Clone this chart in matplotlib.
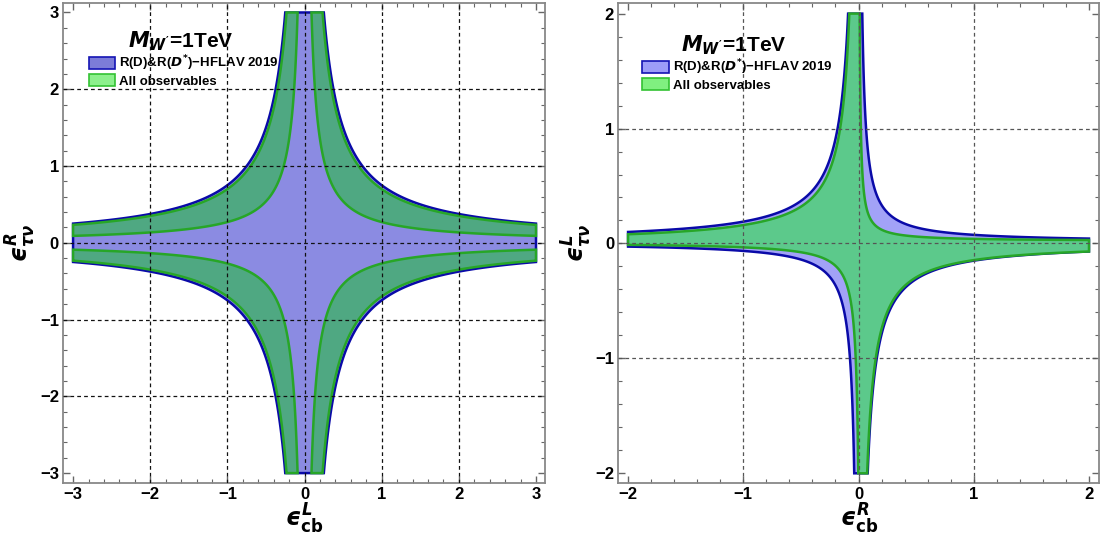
import numpy as np
import matplotlib
matplotlib.use("Agg")
import matplotlib.pyplot as plt
from matplotlib.patches import Polygon, Patch

plt.rcParams['font.family'] = ['Liberation Sans', 'DejaVu Sans']
plt.rcParams['mathtext.fontset'] = 'custom'
plt.rcParams['mathtext.rm'] = 'DejaVu Sans:bold'
plt.rcParams['mathtext.bf'] = 'DejaVu Sans:bold'
plt.rcParams['mathtext.it'] = 'DejaVu Sans:italic:bold'
plt.rcParams['mathtext.sf'] = 'DejaVu Sans:bold'

# ---------------- data (constraint constants) -------------
# Left panel: box limit, R(D)&R(D*) allowed |eL*eR| < c_out, all observables c_in < |eL*eR| < c_green_out
left_box = 3.0
left_blue_c = 0.75
left_green_c_out = 0.70
left_green_c_in = 0.27
left_ticks = [-3, -2, -1, 0, 1, 2, 3]
left_grid = [-2, -1, 0, 1, 2]

# Right panel: each boundary branch (x - a)(y - b) = c, order UR, LR, LL, UL
right_box = 2.0
right_blue_a = [0.0, 0.0, 0.0, 0.0]
right_blue_b = [0.01, 0.01, 0.01, 0.01]
right_blue_c = [0.065, -0.16, 0.075, -0.18]
right_green_a = [0.0, 0.0, 0.02, 0.0]
right_green_b = [0.02, 0.005, 0.01, 0.0]
right_green_c = [0.02, -0.15, 0.045, -0.16]
right_ticks = [-2, -1, 0, 1, 2]
right_grid = [-1, 0, 1]

title_text = r"$M_{W'}$=1TeV"
legend_labels = [r"R(D)&R($D^{*}$)−HFLAV 2019", "All observables"]
left_xlabel = r"$ϵ^{L}_{\mathrm{cb}}$"
left_ylabel = r"$ϵ^{R}_{τν}$"
right_xlabel = r"$ϵ^{R}_{\mathrm{cb}}$"
right_ylabel = r"$ϵ^{L}_{τν}$"

# ---------------- helpers -------------
N = 400

def branch(a, b, c, x0, x1):
    u0, u1 = x0 - a, x1 - a
    s = np.sign(u0 if u0 != 0 else u1)
    us = s * np.geomspace(abs(u0), abs(u1), N)
    return np.column_stack([a + us, b + c / us])

def cross_poly(A, B, C, L):
    ur = branch(A[0], B[0], C[0], A[0] + C[0] / (L - B[0]), L)
    lr = branch(A[1], B[1], C[1], L, A[1] + C[1] / (-L - B[1]))
    ll = branch(A[2], B[2], C[2], A[2] + C[2] / (-L - B[2]), -L)
    ul = branch(A[3], B[3], C[3], -L, A[3] + C[3] / (L - B[3]))
    return np.vstack([ur, lr, ll, ul])

def band_polys(c_in, c_out, L):
    polys = []
    for sx in (1, -1):
        for sy in (1, -1):
            xo = np.geomspace(c_out / L, L, N)
            xi = np.geomspace(L, c_in / L, N)
            pts = np.vstack([np.column_stack([xo, c_out / xo]),
                             np.column_stack([xi, c_in / xi])])
            pts[:, 0] *= sx
            pts[:, 1] *= sy
            polys.append(pts)
    return polys

blue_edge = "#0a0aa8"
green_edge = "#27a627"

def style_axes(ax, lim, ticks, grid, gridcolor):
    ax.set_xlim(lim[0], lim[1])
    ax.set_ylim(lim[0], lim[1])
    ax.set_xticks(ticks)
    ax.set_yticks(ticks)
    ax.set_xticklabels([f"{t}".replace("-", "\u2212") for t in ticks])
    ax.set_yticklabels([f"{t}".replace("-", "\u2212") for t in ticks])
    ax.set_xticks(np.arange(ticks[0], ticks[-1] + 1e-9, 0.2), minor=True)
    ax.set_yticks(np.arange(ticks[0], ticks[-1] + 1e-9, 0.2), minor=True)
    ax.tick_params(which='both', direction='in', top=True, right=True, color='#666666')
    ax.tick_params(which='major', length=5, width=1, labelsize=12, pad=3)
    ax.tick_params(which='minor', length=3, width=0.8)
    for lab in ax.get_xticklabels() + ax.get_yticklabels():
        lab.set_fontweight('bold')
    for s in ax.spines.values():
        s.set_color('#888888')
        s.set_linewidth(1.3)
    for g in grid:
        ax.axvline(g, color=gridcolor, lw=0.9, ls=(0, (3, 2.5)), zorder=5)
        ax.axhline(g, color=gridcolor, lw=0.9, ls=(0, (3, 2.5)), zorder=5)

fig = plt.figure(figsize=(11.06, 5.44), dpi=100)
axL = fig.add_axes([0.057, 0.112, 0.436, 0.882])
axR = fig.add_axes([0.559, 0.112, 0.435, 0.882])

# ---- left panel ----
L = left_box
blue_poly = cross_poly([0, 0, 0, 0], [0, 0, 0, 0],
                       [left_blue_c, -left_blue_c, left_blue_c, -left_blue_c], L)
axL.add_patch(Polygon(blue_poly, closed=True, facecolor="#8b8be2", edgecolor=blue_edge, lw=1.8, zorder=2))
for p in band_polys(left_green_c_in, left_green_c_out, L):
    axL.add_patch(Polygon(p, closed=True, facecolor="#4fa882", edgecolor=green_edge, lw=1.8, zorder=3))
style_axes(axL, (-3.13, 3.12), left_ticks, left_grid, '#111111')
axL.set_xlabel(left_xlabel, fontsize=17, labelpad=0)
axL.set_ylabel(left_ylabel, fontsize=17, labelpad=1)

# ---- right panel ----
L = right_box
bp = cross_poly(right_blue_a, right_blue_b, right_blue_c, L)
axR.add_patch(Polygon(bp, closed=True, facecolor="#a2a2f7", edgecolor=blue_edge, lw=1.8, zorder=2))
gp = cross_poly(right_green_a, right_green_b, right_green_c, L)
axR.add_patch(Polygon(gp, closed=True, facecolor="#5cc98b", edgecolor=green_edge, lw=1.8, zorder=3))
style_axes(axR, (-2.085, 2.09), right_ticks, right_grid, '#555555')
axR.set_xlabel(right_xlabel, fontsize=17, labelpad=0)
axR.set_ylabel(right_ylabel, fontsize=17, labelpad=1)

# ---- legends ----
def add_legend(ax, tx, ty, px, py, blue_fc, green_fc):
    ax.text(tx, ty, title_text, transform=ax.transAxes, fontsize=15, fontweight='bold',
            ha='center', va='center', zorder=10)
    handles = [Patch(facecolor=blue_fc, edgecolor="#1414b4", lw=1.2),
               Patch(facecolor=green_fc, edgecolor="#33c233", lw=1.2)]
    leg = ax.legend(handles, legend_labels, loc='upper left', bbox_to_anchor=(px, py),
                    bbox_transform=ax.transAxes, frameon=False, fontsize=9.5,
                    handlelength=2.0, handleheight=1.0, handletextpad=0.3,
                    labelspacing=0.08, borderpad=0.0, borderaxespad=0.0)
    for t in leg.get_texts():
        t.set_fontweight('bold')
    leg.set_zorder(10)

add_legend(axL, 0.245, 0.92, 0.053, 0.895, "#7c7cd8", "#8cf08c")
add_legend(axR, 0.24, 0.912, 0.05, 0.887, "#9c9cf8", "#80f080")

fig.savefig("out.png", dpi=100)
